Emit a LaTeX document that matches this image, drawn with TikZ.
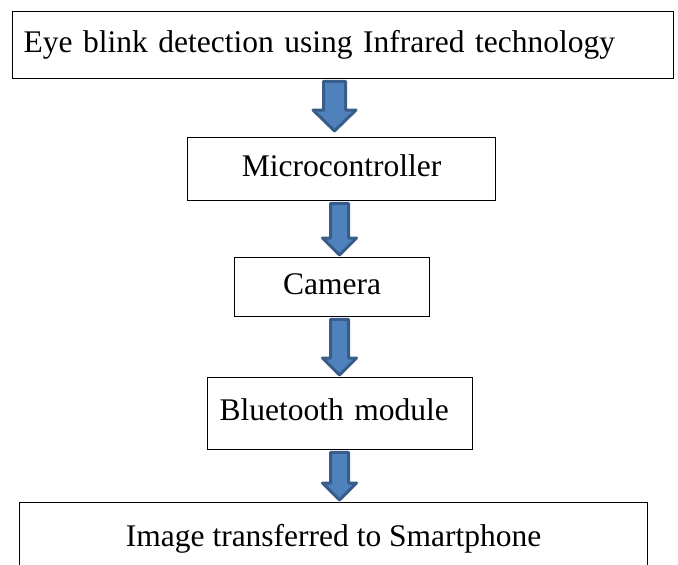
\documentclass[tikz,border=0pt]{standalone}
\usepackage{fontspec}
\setmainfont{Liberation Serif}
\usetikzlibrary{calc}
\definecolor{arrfill}{HTML}{4F81BD}
\definecolor{arrline}{HTML}{385D8A}
\tikzset{
  box/.style={draw=black, line width=1.3pt, rectangle, anchor=north west,
    inner ysep=0pt, text height=21pt, text depth=7pt,
    font=\fontsize{31.5}{36}\selectfont},
  blockarrow/.style={fill=arrfill, draw=arrline, line width=3pt, line join=round}
}
% #1 from node, #2 to node, #3 x centre, #4 shaft half width, #5 head half width, #6 head length, #7 gap at tip
\newcommand\blkarrow[7]{%
  \draw[blockarrow] let \p1=(#1.south), \p2=(#2.north) in
    ({#3pt-#4pt},{\y1-2pt}) -- ({#3pt+#4pt},{\y1-2pt}) --
    ({#3pt+#4pt},{\y2+#7pt+#6pt}) -- ({#3pt+#5pt},{\y2+#7pt+#6pt}) --
    ({#3pt},{\y2+#7pt}) --
    ({#3pt-#5pt},{\y2+#7pt+#6pt}) -- ({#3pt-#4pt},{\y2+#7pt+#6pt}) -- cycle;}
\begin{document}
\begin{tikzpicture}[x=1pt,y=-1pt]
\useasboundingbox (0,0) rectangle (678,565);
\clip (0,0) rectangle (678,565);
\node[box, minimum width=661pt, minimum height=67pt, inner xsep=11pt, text width=639pt, align=left]
  (eye) at (12,11) {Eye blink detection using Infrared technology};
\node[box, minimum width=308pt, minimum height=63pt, inner xsep=0pt]
  (mcu) at (187,137) {Microcontroller};
\node[box, minimum width=195pt, minimum height=59pt, inner xsep=0pt]
  (cam) at (234,257) {Camera};
\node[box, minimum width=265pt, minimum height=72pt, inner xsep=12pt, text width=241pt, align=left]
  (bt) at (207,377) {Bluetooth module};
\node[box, minimum width=628pt, minimum height=73pt, inner xsep=0pt]
  (img) at (19,502) {Image transferred to Smartphone};
\blkarrow{eye}{mcu}{334.5}{11}{21.5}{21}{6}
\blkarrow{mcu}{cam}{339.5}{9}{17}{17}{2}
\blkarrow{cam}{bt}{339.5}{9}{17}{17}{2}
\blkarrow{bt}{img}{339.5}{9}{17}{17}{2}
\end{tikzpicture}
\end{document}
